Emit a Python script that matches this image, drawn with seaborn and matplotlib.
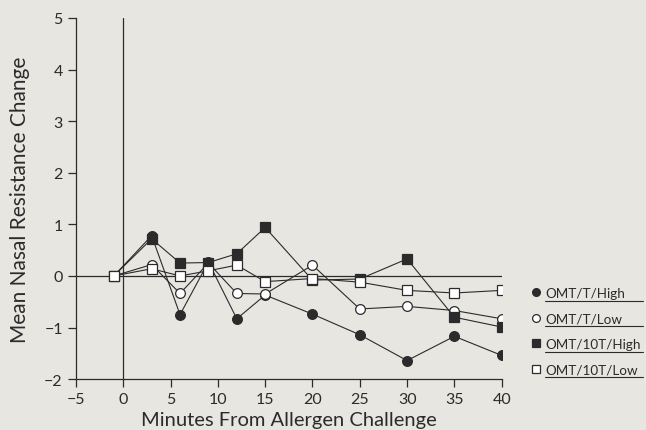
import matplotlib
matplotlib.use("Agg")
import matplotlib.pyplot as plt
from matplotlib.lines import Line2D
import seaborn as sns
import pandas as pd

# minutes from allergen challenge
minutes = [-1, 3, 6, 9, 12, 15, 20, 25, 30, 35, 40]

omt_t_high = [0, 0.78, -0.75, 0.27, -0.83, -0.37, -0.74, -1.14, -1.64, -1.17, -1.54]
omt_t_low = [0, 0.22, -0.34, 0.25, -0.34, -0.35, 0.21, -0.64, -0.59, -0.67, -0.83]
omt_10t_high = [0, 0.72, 0.25, 0.26, 0.43, 0.94, -0.08, -0.06, 0.33, -0.80, -0.99]
omt_10t_low = [0, 0.14, 0.0, 0.10, 0.21, -0.11, -0.05, -0.12, -0.28, -0.33, -0.28]

series_names = ["OMT/T/High", "OMT/T/Low", "OMT/10T/High", "OMT/10T/Low"]
series_values = [omt_t_high, omt_t_low, omt_10t_high, omt_10t_low]

x_ticks = [-5, 0, 5, 10, 15, 20, 25, 30, 35, 40]
y_ticks = [-2, -1, 0, 1, 2, 3, 4, 5]

bg = "#e8e6e1"
ink = "#2b2b2b"

sns.set_style("ticks")
plt.rcParams["font.family"] = ["Lato", "DejaVu Sans"]

fig = plt.figure(figsize=(6.46, 4.31), dpi=100)
fig.patch.set_facecolor(bg)
ax = fig.add_axes([0.1176, 0.118, 0.659, 0.838])
ax.set_facecolor(bg)

# reference lines at zero
ax.plot([-5, 40], [0, 0], color=ink, lw=0.9, zorder=1)
ax.plot([0, 0], [-2, 5], color=ink, lw=0.9, zorder=1)

styles = {
    "OMT/T/High": dict(marker="o", markerfacecolor=ink, markersize=7),
    "OMT/T/Low": dict(marker="o", markerfacecolor="white", markersize=7),
    "OMT/10T/High": dict(marker="s", markerfacecolor=ink, markersize=7),
    "OMT/10T/Low": dict(marker="s", markerfacecolor="white", markersize=7),
}

for name, vals in zip(series_names, series_values):
    df = pd.DataFrame({"minutes": minutes, "change": vals})
    sns.lineplot(data=df, x="minutes", y="change", ax=ax, color=ink,
                 lw=0.8, markeredgecolor=ink, markeredgewidth=0.9,
                 label=name, zorder=3, **styles[name])

ax.set_xlim(-5, 40)
ax.set_ylim(-2, 5)
ax.set_xticks(x_ticks)
ax.set_yticks(y_ticks)
ax.set_yticklabels([str(v).replace("-", "\u2212") for v in y_ticks])
ax.set_xticklabels([str(v).replace("-", "\u2212") for v in x_ticks])
ax.tick_params(labelsize=11.5, colors=ink, length=6, width=0.9)
ax.set_xlabel("Minutes From Allergen Challenge", fontsize=14.5, color=ink, labelpad=3)
ax.set_ylabel("Mean Nasal Resistance Change", fontsize=15, color=ink, labelpad=10)
sns.despine(ax=ax)
for sp in ["left", "bottom"]:
    ax.spines[sp].set_color(ink)
    ax.spines[sp].set_linewidth(0.9)

leg = ax.legend(loc="upper left", bbox_to_anchor=(1.06, 0.27), frameon=False,
                fontsize=9.7, handlelength=0.5, handletextpad=0.45,
                labelspacing=1.0, markerscale=0.8, borderaxespad=0)
for h in leg.legend_handles:
    h.set_linestyle("none")
for t in leg.get_texts():
    t.set_color(ink)

# underline each legend label, running to the right edge as in the print
fig.canvas.draw()
inv = fig.transFigure.inverted()
for t in leg.get_texts():
    bb = t.get_window_extent()
    (x0, y0) = inv.transform((bb.x0, bb.y0 - 2))
    fig.add_artist(Line2D([x0, 0.995], [y0, y0], transform=fig.transFigure,
                          color=ink, lw=0.8))

fig.savefig("out.png", dpi=100, facecolor=bg)
